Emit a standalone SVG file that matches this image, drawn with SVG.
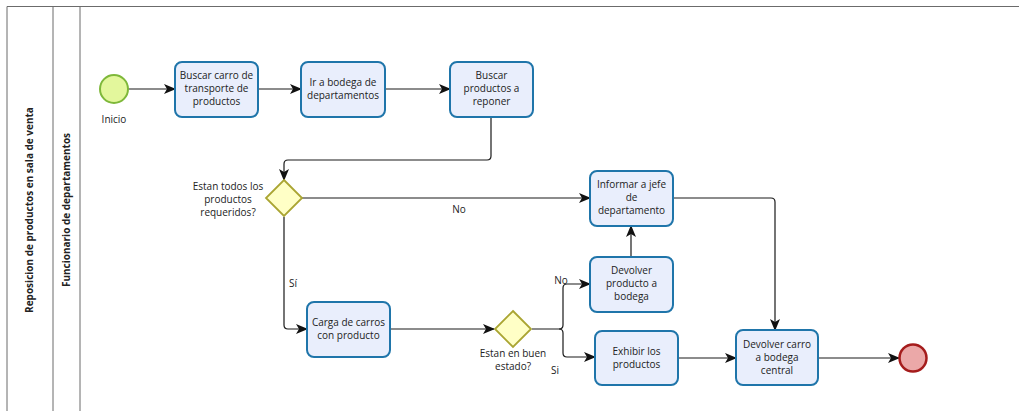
<svg xmlns="http://www.w3.org/2000/svg" width="1019" height="411" viewBox="0 0 1019 411">
<defs>
<marker id="arr" viewBox="0 0 12 10" refX="11" refY="5" markerWidth="12" markerHeight="10" markerUnits="userSpaceOnUse" orient="auto">
<path d="M0,0 L12,5 L0,10 L3,5 Z" fill="#111"/>
</marker>
<style>
.pool{fill:none;stroke:#6b6b6b;stroke-width:1}
.task{fill:#e9eefc;stroke:#1f75aa;stroke-width:2}
.gw{fill:#ffffc6;stroke:#aaa532;stroke-width:1.8}
.t{font-family:"Open Sans","DejaVu Sans",sans-serif;font-size:10px;fill:#222;text-anchor:middle}
.lb{font-family:"Open Sans","DejaVu Sans",sans-serif;font-size:10px;fill:#222;font-weight:bold;text-anchor:middle}
.c{fill:none;stroke:#1a1a1a;stroke-width:1.2;marker-end:url(#arr)}
</style>
</defs>
<rect width="1019" height="411" fill="#fff"/>
<g id="pool">
<path class="pool" d="M7,411 V6.5 H1019"/>
<line class="pool" x1="53" y1="6.5" x2="53" y2="411"/>
<line class="pool" x1="80" y1="6.5" x2="80" y2="411"/>
<text class="lb" transform="translate(33,210) rotate(-90)">Reposicion de productos en sala de venta</text>
<text class="lb" transform="translate(70,210) rotate(-90)">Funcionario de departamentos</text>
</g>
<g id="connectors">
<path class="c" d="M128,89 H175"/>
<path class="c" d="M258,89 H301"/>
<path class="c" d="M385,89 H450"/>
<path class="c" d="M491,117 V156 Q491,160 487,160 H288 Q284,160 284,164 V180"/>
<path class="c" d="M302,198 H590"/>
<path class="c" d="M284,217 V325 Q284,329 288,329 H307"/>
<path class="c" d="M390,329 H494"/>
<path class="c" d="M532,329 H559 Q563,329 563,325 V288 Q563,284 567,284 H590"/>
<path class="c" d="M559,329 Q563,329 563,333 V353 Q563,357 567,357 H595"/>
<path class="c" d="M631,257 V226"/>
<path class="c" d="M673,198 H771 Q775,198 775,202 V330"/>
<path class="c" d="M678,358 H736"/>
<path class="c" d="M818,358 H899"/>
<text class="t" x="459" y="213">No</text>
<text class="t" x="293" y="287">Sí</text>
<text class="t" x="561" y="284">No</text>
<text class="t" x="555" y="374">Si</text>
</g>
<g id="start">
<circle cx="114" cy="89" r="14" fill="#e3f79c" stroke="#7eb83a" stroke-width="2"/>
<text class="t" x="114" y="123">Inicio</text>
</g>
<g id="task1">
<rect class="task" x="175" y="62" width="83" height="55" rx="7"/>
<text class="t" x="216.5" y="79">Buscar carro de</text>
<text class="t" x="216.5" y="92">transporte de</text>
<text class="t" x="216.5" y="105">productos</text>
</g>
<g id="task2">
<rect class="task" x="301" y="62" width="84" height="55" rx="7"/>
<text class="t" x="343" y="86">Ir a bodega de</text>
<text class="t" x="343" y="99">departamentos</text>
</g>
<g id="task3">
<rect class="task" x="450" y="62" width="83" height="55" rx="7"/>
<text class="t" x="491.5" y="79">Buscar</text>
<text class="t" x="491.5" y="92">productos a</text>
<text class="t" x="491.5" y="105">reponer</text>
</g>
<g id="gw1">
<path class="gw" d="M284,180 L302,198 L284,216 L266,198 Z"/>
<text class="t" x="228" y="190">Estan todos los</text>
<text class="t" x="228" y="203">productos</text>
<text class="t" x="228" y="216">requeridos?</text>
</g>
<g id="task4">
<rect class="task" x="590" y="171" width="83" height="55" rx="7"/>
<text class="t" x="631.5" y="188">Informar a jefe</text>
<text class="t" x="631.5" y="201">de</text>
<text class="t" x="631.5" y="214">departamento</text>
</g>
<g id="task5">
<rect class="task" x="590" y="257" width="83" height="55" rx="7"/>
<text class="t" x="631.5" y="274">Devolver</text>
<text class="t" x="631.5" y="287">producto a</text>
<text class="t" x="631.5" y="300">bodega</text>
</g>
<g id="task6">
<rect class="task" x="307" y="302" width="83" height="55" rx="7"/>
<text class="t" x="348.5" y="326">Carga de carros</text>
<text class="t" x="348.5" y="339">con producto</text>
</g>
<g id="gw2">
<path class="gw" d="M513,311 L531,329 L513,347 L495,329 Z"/>
<text class="t" x="513" y="357">Estan en buen</text>
<text class="t" x="513" y="370">estado?</text>
</g>
<g id="task7">
<rect class="task" x="595" y="331" width="83" height="54" rx="7"/>
<text class="t" x="636.5" y="355">Exhibir los</text>
<text class="t" x="636.5" y="368">productos</text>
</g>
<g id="task8">
<rect class="task" x="736" y="330" width="82" height="55" rx="7"/>
<text class="t" x="777" y="348">Devolver carro</text>
<text class="t" x="777" y="361">a bodega</text>
<text class="t" x="777" y="374">central</text>
</g>
<g id="end">
<circle cx="913" cy="358" r="13.5" fill="#eba8a8" stroke="#a51c1c" stroke-width="2.5"/>
</g>
</svg>
